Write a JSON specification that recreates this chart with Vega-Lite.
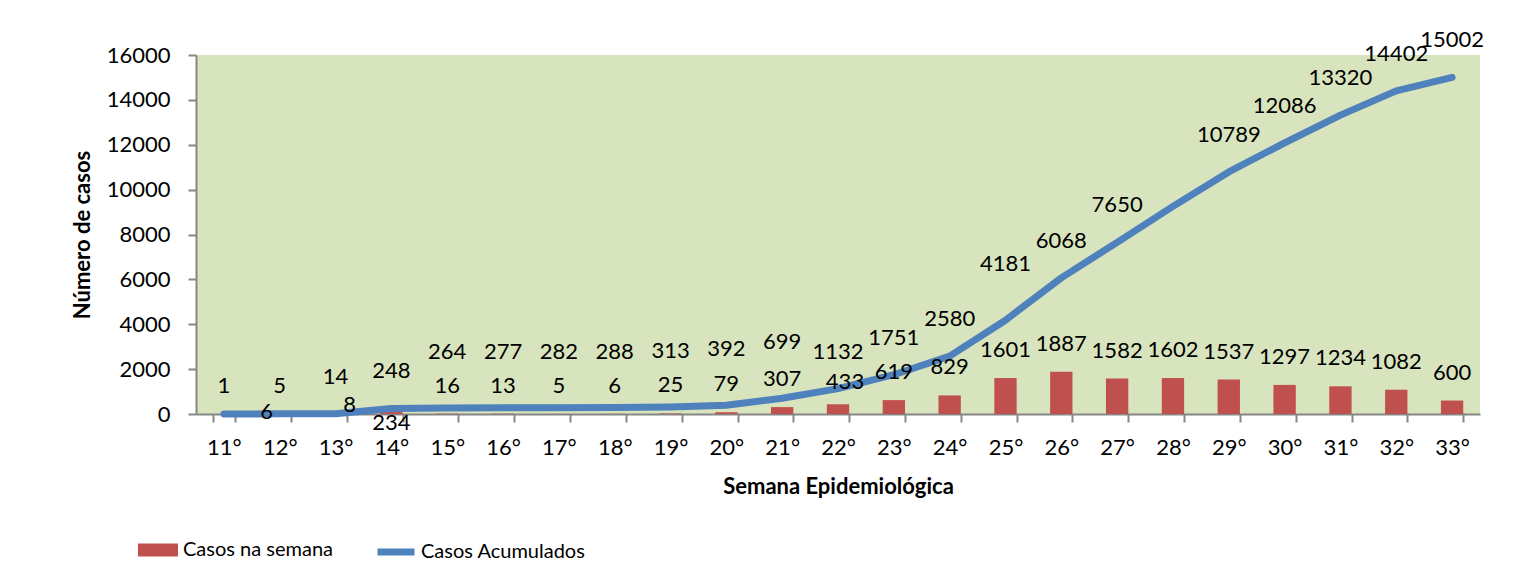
{
  "$schema": "https://vega.github.io/schema/vega-lite/v6.json",
  "width": 1284,
  "height": 359,
  "autosize": {"type": "none"},
  "padding": {"left": 196, "top": 55, "right": 42, "bottom": 174},
  "background": "white",
  "config": {
    "font": "Lato",
    "view": {"fill": "#d7e4bd", "stroke": null},
    "text": {"font": "Lato", "fontSize": 22, "color": "black", "baseline": "middle"},
    "axis": {
      "labelFont": "Lato", "labelFontSize": 22, "labelColor": "black",
      "titleFont": "Lato", "titleFontSize": 22, "titleFontWeight": "bold", "titleColor": "black",
      "domainColor": "#868686", "domainWidth": 2, "tickColor": "#868686", "tickWidth": 2, "tickSize": 8,
      "grid": false
    },
    "axisY": {"labelPadding": 18, "titlePadding": 12, "tickCount": 8},
    "legend": {"labelFont": "Lato", "labelFontSize": 20, "labelColor": "black", "labelLimit": 0}
  },
  "data": {"values": [
    {"semana": "11°", "casos": 1, "acumulados": 1},
    {"semana": "12°", "casos": 5, "acumulados": 6},
    {"semana": "13°", "casos": 8, "acumulados": 14},
    {"semana": "14°", "casos": 234, "acumulados": 248},
    {"semana": "15°", "casos": 16, "acumulados": 264},
    {"semana": "16°", "casos": 13, "acumulados": 277},
    {"semana": "17°", "casos": 5, "acumulados": 282},
    {"semana": "18°", "casos": 6, "acumulados": 288},
    {"semana": "19°", "casos": 25, "acumulados": 313},
    {"semana": "20°", "casos": 79, "acumulados": 392},
    {"semana": "21°", "casos": 307, "acumulados": 699},
    {"semana": "22°", "casos": 433, "acumulados": 1132},
    {"semana": "23°", "casos": 619, "acumulados": 1751},
    {"semana": "24°", "casos": 829, "acumulados": 2580},
    {"semana": "25°", "casos": 1601, "acumulados": 4181},
    {"semana": "26°", "casos": 1887, "acumulados": 6068},
    {"semana": "27°", "casos": 1582, "acumulados": 7650},
    {"semana": "28°", "casos": 1602, "acumulados": 9252},
    {"semana": "29°", "casos": 1537, "acumulados": 10789},
    {"semana": "30°", "casos": 1297, "acumulados": 12086},
    {"semana": "31°", "casos": 1234, "acumulados": 13320},
    {"semana": "32°", "casos": 1082, "acumulados": 14402},
    {"semana": "33°", "casos": 600, "acumulados": 15002}
  ]},
  "encoding": {
    "x": {
      "field": "semana", "type": "nominal", "sort": null,
      "scale": {"paddingInner": 0.6, "paddingOuter": 0.3},
      "axis": {"title": "Semana Epidemiológica", "labelAngle": 0, "tickBand": "extent", "labelPadding": 15, "titlePadding": 18}
    }
  },
  "layer": [
    {
      "mark": {"type": "bar", "color": "#c0504d"},
      "encoding": {
        "y": {"field": "casos", "type": "quantitative", "title": "Número de casos", "axis": {"format": "d"}, "scale": {"domain": [0, 16000], "nice": false}},
        "color": {"datum": "Casos na semana", "scale": {"range": ["#c0504d"]},
          "legend": {"orient": "none", "legendX": -58, "legendY": 475, "title": null, "padding": 0,
            "symbolType": "M-1,-0.325H1V0.325H-1Z", "symbolSize": 1600, "symbolStrokeWidth": 0, "labelOffset": 5}}
      }
    },
    {
      "mark": {"type": "line", "strokeWidth": 7, "strokeCap": "round", "strokeJoin": "round"},
      "encoding": {
        "y": {"field": "acumulados", "type": "quantitative", "title": "Número de casos", "axis": {"format": "d"}, "scale": {"domain": [0, 16000], "nice": false}},
        "color": {"datum": "Casos Acumulados", "scale": {"range": ["#4f81bd"]},
          "legend": {"orient": "none", "legendX": 178, "legendY": 475, "title": null, "padding": 0,
            "symbolType": "stroke", "symbolSize": 1369, "symbolStrokeWidth": 7, "labelOffset": 3}}
      }
    },
    {
      "transform": [{"filter": "indexof(['13°','14°','22°'], datum.semana) < 0"}],
      "mark": {"type": "text", "dy": -28},
      "encoding": {"y": {"field": "casos", "type": "quantitative", "title": "Número de casos", "axis": {"format": "d"}}, "text": {"field": "casos", "type": "quantitative"}}
    },
    {
      "transform": [{"filter": "datum.semana == '22°'"}],
      "mark": {"type": "text", "dy": -22, "dx": 7},
      "encoding": {"y": {"field": "casos", "type": "quantitative", "title": "Número de casos", "axis": {"format": "d"}}, "text": {"field": "casos", "type": "quantitative"}}
    },
    {
      "transform": [{"filter": "datum.semana == '13°'"}],
      "mark": {"type": "text", "dy": -9, "dx": 14},
      "encoding": {"y": {"field": "casos", "type": "quantitative", "title": "Número de casos", "axis": {"format": "d"}}, "text": {"field": "casos", "type": "quantitative"}}
    },
    {
      "transform": [{"filter": "datum.semana == '14°'"}],
      "mark": {"type": "text", "dy": 14},
      "encoding": {"y": {"field": "casos", "type": "quantitative", "title": "Número de casos", "axis": {"format": "d"}}, "text": {"field": "casos", "type": "quantitative"}}
    },
    {
      "transform": [{"filter": "indexof(['11°','12°','15°','16°','17°','18°','19°','20°','21°','25°','28°'], datum.semana) < 0"}],
      "mark": {"type": "text", "dy": -37},
      "encoding": {"y": {"field": "acumulados", "type": "quantitative", "title": "Número de casos", "axis": {"format": "d"}}, "text": {"field": "acumulados", "type": "quantitative"}}
    },
    {
      "transform": [{"filter": "indexof(['15°','16°','17°','18°','19°','20°','21°','25°'], datum.semana) >= 0"}],
      "mark": {"type": "text", "dy": -56},
      "encoding": {"y": {"field": "acumulados", "type": "quantitative", "title": "Número de casos", "axis": {"format": "d"}}, "text": {"field": "acumulados", "type": "quantitative"}}
    },
    {
      "transform": [{"filter": "datum.semana == '12°'"}],
      "mark": {"type": "text", "dy": -2, "dx": -13},
      "encoding": {"y": {"field": "acumulados", "type": "quantitative", "title": "Número de casos", "axis": {"format": "d"}}, "text": {"field": "acumulados", "type": "quantitative"}}
    }
  ],
  "resolve": {"scale": {"color": "independent"}}
}
